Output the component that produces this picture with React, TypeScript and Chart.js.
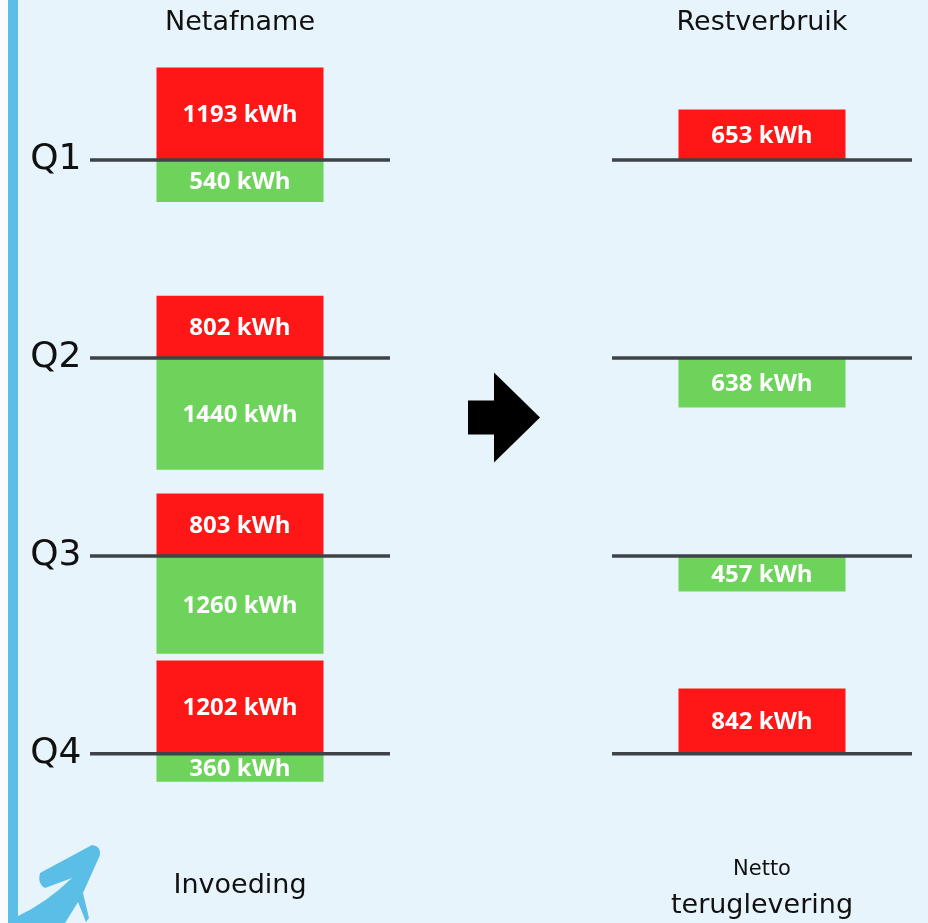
import React, { useEffect, useRef } from "react";
import { Chart, registerables } from "chart.js";

Chart.register(...registerables);

// ---- data ----
const COLUMNS = ["Netafname", "", "Restverbruik"];
const QUARTERS = ["Q1", "Q2", "Q3", "Q4"];
const NETAFNAME = [1193, 802, 803, 1202]; // kWh taken from the grid
const INVOEDING = [540, 1440, 1260, 360]; // kWh fed back
const RESTVERBRUIK = [653, -638, -457, 842]; // net (+ = use, - = return)
const BOTTOM_LEFT = "Invoeding";
const BOTTOM_RIGHT = ["Netto", "teruglevering"];

// ---- layout of the value axis (kWh units) ----
const ROW_GAP = 2550;
const Y_MAX = 1290;
const Y_MIN = -8760;

// ---- styles ----
const RED = "#ff1717";
const GREEN = "#6dd35a";
const BG = "#e8f4fc";
const BLUE = "#5bbee6";
const LINE = "#3d4348";
const TITLE_FONT = "'DejaVu Sans'";
const LABEL_FONT = "'Open Sans'";

function buildDatasets() {
  const sets: any[] = [];
  QUARTERS.forEach((q, i) => {
    const base = -i * ROW_GAP;
    const rest = RESTVERBRUIK[i];
    sets.push({
      label: q + " netafname",
      data: [[base, base + NETAFNAME[i]], null, rest > 0 ? [base, base + rest] : null],
      backgroundColor: RED,
      grouped: false,
      barPercentage: 0.64,
      categoryPercentage: 1,
    });
    sets.push({
      label: q + " invoeding",
      data: [[base - INVOEDING[i], base], null, rest < 0 ? [base + rest, base] : null],
      backgroundColor: GREEN,
      grouped: false,
      barPercentage: 0.64,
      categoryPercentage: 1,
    });
  });
  return sets;
}

const decorPlugin = {
  id: "decor",
  beforeDraw(chart: any) {
    const { ctx, width, height } = chart;
    ctx.save();
    ctx.fillStyle = BG;
    ctx.fillRect(0, 0, width, height);
    ctx.fillStyle = "#fafbfc";
    ctx.fillRect(0, 0, 8, height);
    ctx.fillStyle = BLUE;
    ctx.fillRect(8, 0, 10, height);
    ctx.restore();
  },
  afterDatasetsDraw(chart: any) {
    const { ctx, chartArea } = chart;
    const xs = chart.scales.x;
    const ys = chart.scales.y;
    ctx.save();

    // baselines per quarter, in both columns
    ctx.strokeStyle = LINE;
    ctx.lineWidth = 3.5;
    QUARTERS.forEach((_, i) => {
      const y = ys.getPixelForValue(-i * ROW_GAP);
      [0, 2].forEach((col) => {
        const cx = xs.getPixelForValue(col);
        ctx.beginPath();
        ctx.moveTo(cx - 150, y);
        ctx.lineTo(cx + 150, y);
        ctx.stroke();
      });
    });

    // value labels in the bars
    ctx.fillStyle = "#ffffff";
    ctx.font = `700 24px ${LABEL_FONT}`;
    ctx.textAlign = "center";
    ctx.textBaseline = "middle";
    chart.data.datasets.forEach((ds: any, di: number) => {
      const meta = chart.getDatasetMeta(di);
      meta.data.forEach((el: any, j: number) => {
        const d = ds.data[j];
        if (!d) return;
        const v = Math.round(Math.abs(d[1] - d[0]));
        ctx.fillText(`${v} kWh`, el.x, (el.y + el.base) / 2 + 1);
      });
    });

    // black arrow in the middle column
    const ax = xs.getPixelForValue(1);
    const ay = ys.getPixelForValue(-1.3 * ROW_GAP);
    ctx.fillStyle = "#000000";
    ctx.beginPath();
    ctx.moveTo(ax - 33, ay - 17);
    ctx.lineTo(ax - 7, ay - 17);
    ctx.lineTo(ax - 7, ay - 45);
    ctx.lineTo(ax + 39, ay);
    ctx.lineTo(ax - 7, ay + 45);
    ctx.lineTo(ax - 7, ay + 17);
    ctx.lineTo(ax - 33, ay + 17);
    ctx.closePath();
    ctx.fill();

    // bottom captions
    const bx0 = xs.getPixelForValue(0);
    const bx2 = xs.getPixelForValue(2);
    const b = chartArea.bottom;
    ctx.fillStyle = "#111111";
    ctx.font = `27px ${TITLE_FONT}`;
    ctx.fillText(BOTTOM_LEFT, bx0, b + 46);
    ctx.font = `21px ${TITLE_FONT}`;
    ctx.fillText(BOTTOM_RIGHT[0], bx2, b + 30);
    ctx.font = `27px ${TITLE_FONT}`;
    ctx.fillText(BOTTOM_RIGHT[1], bx2, b + 66);

    // blue swoosh arrow bottom-left
    ctx.fillStyle = BLUE;
    ctx.beginPath();
    ctx.moveTo(92, 845);
    ctx.quadraticCurveTo(101, 846, 100, 855);
    ctx.lineTo(83, 893);
    ctx.lineTo(89, 918);
    ctx.lineTo(86, 922);
    ctx.lineTo(78, 902);
    ctx.quadraticCurveTo(72, 912, 65, 923);
    ctx.lineTo(18, 923);
    ctx.lineTo(18, 916);
    ctx.quadraticCurveTo(46, 903, 72, 878);
    ctx.lineTo(45, 888);
    ctx.quadraticCurveTo(37, 884, 40, 873);
    ctx.closePath();
    ctx.fill();

    ctx.restore();
  },
};

export default function App() {
  const ref = useRef<HTMLCanvasElement | null>(null);

  useEffect(() => {
    if (!ref.current) return;
    const chart = new Chart(ref.current, {
      type: "bar",
      data: { labels: COLUMNS, datasets: buildDatasets() },
      options: {
        animation: false,
        responsive: true,
        maintainAspectRatio: false,
        layout: { padding: { left: 0, right: 35.5, top: 0, bottom: 83 } },
        plugins: { legend: { display: false }, tooltip: { enabled: false } },
        scales: {
          x: {
            type: "category",
            position: "top",
            grid: { display: false, drawTicks: false },
            border: { display: false },
            ticks: {
              padding: 21,
              color: "#111111",
              font: { family: "DejaVu Sans", size: 27 },
              maxRotation: 0,
              autoSkip: false,
            },
            afterFit: (s: any) => {
              s.height = 60;
            },
          },
          y: {
            type: "linear",
            min: Y_MIN,
            max: Y_MAX,
            grid: { display: false, drawTicks: false },
            border: { display: false },
            afterBuildTicks: (s: any) => {
              s.ticks = QUARTERS.map((_, i) => ({ value: -i * ROW_GAP }));
            },
            ticks: {
              autoSkip: false,
              padding: 28,
              color: "#111111",
              font: { family: "DejaVu Sans", size: 36 },
              callback: (_v: any, i: number) => QUARTERS[i],
            },
            afterFit: (s: any) => {
              s.width = 109.5;
            },
          },
        },
      },
      plugins: [decorPlugin],
    });
    return () => chart.destroy();
  }, []);

  return (
    <div style={{ position: "fixed", left: 0, top: 0, width: 928, height: 923 }}>
      <canvas ref={ref} />
    </div>
  );
}
